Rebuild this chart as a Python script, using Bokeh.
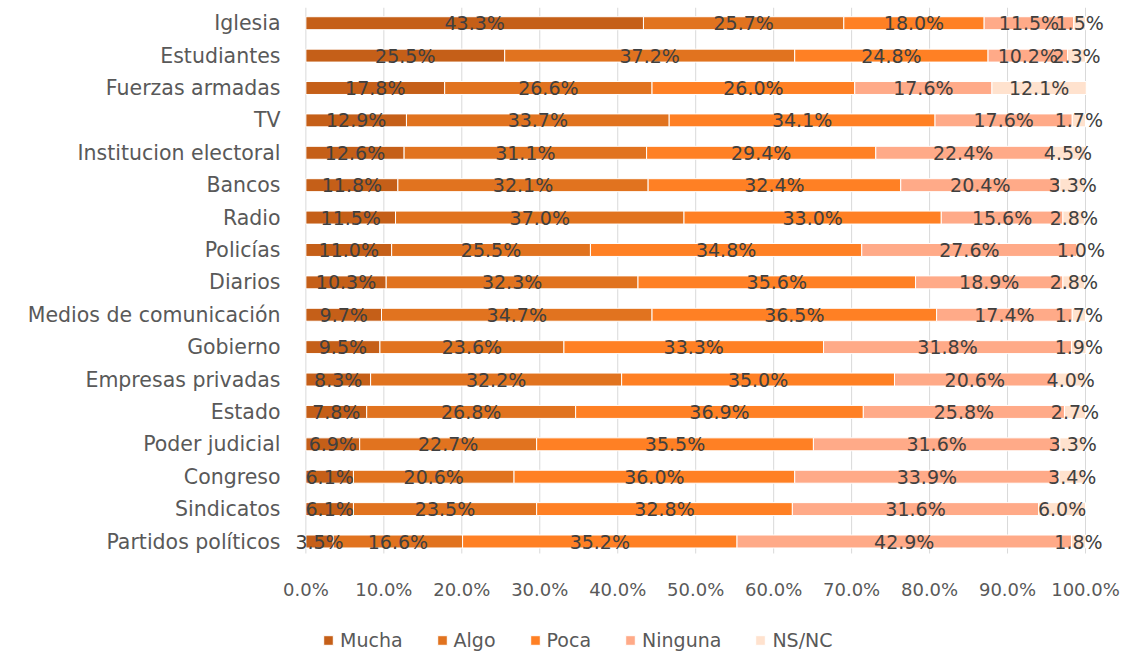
from bokeh.plotting import figure
from bokeh.models import ColumnDataSource, FixedTicker, NumeralTickFormatter, Legend, LegendItem, Range1d
from bokeh.core.properties import value
from bokeh.embed import file_html
from bokeh.resources import INLINE

institutions = ["Iglesia", "Estudiantes", "Fuerzas armadas", "TV", "Institucion electoral",
                "Bancos", "Radio", "Policías", "Diarios", "Medios de comunicación", "Gobierno",
                "Empresas privadas", "Estado", "Poder judicial", "Congreso", "Sindicatos",
                "Partidos políticos"]
series = ["Mucha", "Algo", "Poca", "Ninguna", "NS/NC"]
mucha = [43.3, 25.5, 17.8, 12.9, 12.6, 11.8, 11.5, 11.0, 10.3, 9.7, 9.5, 8.3, 7.8, 6.9, 6.1, 6.1, 3.5]
algo = [25.7, 37.2, 26.6, 33.7, 31.1, 32.1, 37.0, 25.5, 32.3, 34.7, 23.6, 32.2, 26.8, 22.7, 20.6, 23.5, 16.6]
poca = [18.0, 24.8, 26.0, 34.1, 29.4, 32.4, 33.0, 34.8, 35.6, 36.5, 33.3, 35.0, 36.9, 35.5, 36.0, 32.8, 35.2]
ninguna = [11.5, 10.2, 17.6, 17.6, 22.4, 20.4, 15.6, 27.6, 18.9, 17.4, 31.8, 20.6, 25.8, 31.6, 33.9, 31.6, 42.9]
nsnc = [1.5, 2.3, 12.1, 1.7, 4.5, 3.3, 2.8, 1.0, 2.8, 1.7, 1.9, 4.0, 2.7, 3.3, 3.4, 6.0, 1.8]
colors = ["#C55F18", "#E1731F", "#FF8024", "#FFAA88", "#FFE2CE"]
x_ticks = [0, 0.1, 0.2, 0.3, 0.4, 0.5, 0.6, 0.7, 0.8, 0.9, 1.0]

FONT = "DejaVu Sans"
n = len(institutions)
ypos = [n - 1 - i for i in range(n)]
all_vals = [mucha, algo, poca, ninguna, nsnc]

# vertical extent of the bar area (in row units) and the extra room for the legend
Y_TOP = n - 1 + 0.485
Y_AXIS = -0.37
Y_BOTTOM = Y_AXIS - 3.18

data = {"y": ypos}
for name, vals in zip(series, all_vals):
    data[name] = [v / 100 for v in vals]
src = ColumnDataSource(data)

p = figure(width=1125, height=656, output_backend="svg", toolbar_location=None,
           x_range=Range1d(-0.03, 1.0513), y_range=Range1d(Y_BOTTOM, Y_TOP),
           min_border_left=282, min_border_right=0, min_border_top=7, min_border_bottom=0)
p.outline_line_color = None
p.background_fill_color = "white"
p.border_fill_color = "white"

# gridlines limited to the bar area
p.segment(x0=x_ticks, y0=[Y_AXIS] * len(x_ticks), x1=x_ticks, y1=[Y_TOP] * len(x_ticks),
          line_color="#D9D9D9", line_width=1)

rends = p.hbar_stack(series, y="y", height=0.40, color=colors, source=src,
                     line_color="white", line_width=1)

# data labels
lx, ly, lt = [], [], []
for j in range(n):
    cum = 0.0
    for vals in all_vals:
        v = vals[j] / 100
        lx.append(cum + v / 2)
        ly.append(ypos[j])
        lt.append(f"{vals[j]:.1f}%")
        cum += v
lsrc = ColumnDataSource(dict(x=lx, y=ly, t=lt))
p.text(x="x", y="y", text="t", source=lsrc, text_align="center", text_baseline="middle",
       text_font=value(FONT), text_font_size="19px", text_color="#404040")

p.xaxis.fixed_location = Y_AXIS
p.xaxis.ticker = FixedTicker(ticks=x_ticks)
p.xaxis.formatter = NumeralTickFormatter(format="0.0%")
p.xaxis.axis_line_color = None
p.xaxis.major_tick_line_color = None
p.xaxis.minor_tick_line_color = None
p.xaxis.major_tick_out = 0
p.xaxis.major_tick_in = 0
p.xaxis.major_label_standoff = 26
p.xaxis.major_label_text_font = FONT
p.xaxis.major_label_text_font_size = "18px"
p.xaxis.major_label_text_color = "#595959"

p.yaxis.ticker = FixedTicker(ticks=ypos)
p.yaxis.major_label_overrides = {y: name for y, name in zip(ypos, institutions)}
p.yaxis.axis_line_color = None
p.yaxis.major_tick_line_color = None
p.yaxis.minor_tick_line_color = None
p.yaxis.major_tick_out = 0
p.yaxis.major_tick_in = 0
p.yaxis.major_label_standoff = 2
p.yaxis.major_label_text_font = FONT
p.yaxis.major_label_text_font_size = "20.5px"
p.yaxis.major_label_text_color = "#595959"

p.xgrid.grid_line_color = None
p.ygrid.grid_line_color = None

legend = Legend(items=[LegendItem(label=s, renderers=[r]) for s, r in zip(series, rends)],
                orientation="horizontal", location=(40, 5), margin=0, padding=4,
                glyph_width=12, glyph_height=12, label_text_font=FONT,
                label_text_font_size="19px", label_text_color="#595959",
                spacing=33, label_standoff=6, border_line_color=None,
                background_fill_alpha=0)
p.add_layout(legend, "center")

open("out.html", "w").write(file_html(p, INLINE))
